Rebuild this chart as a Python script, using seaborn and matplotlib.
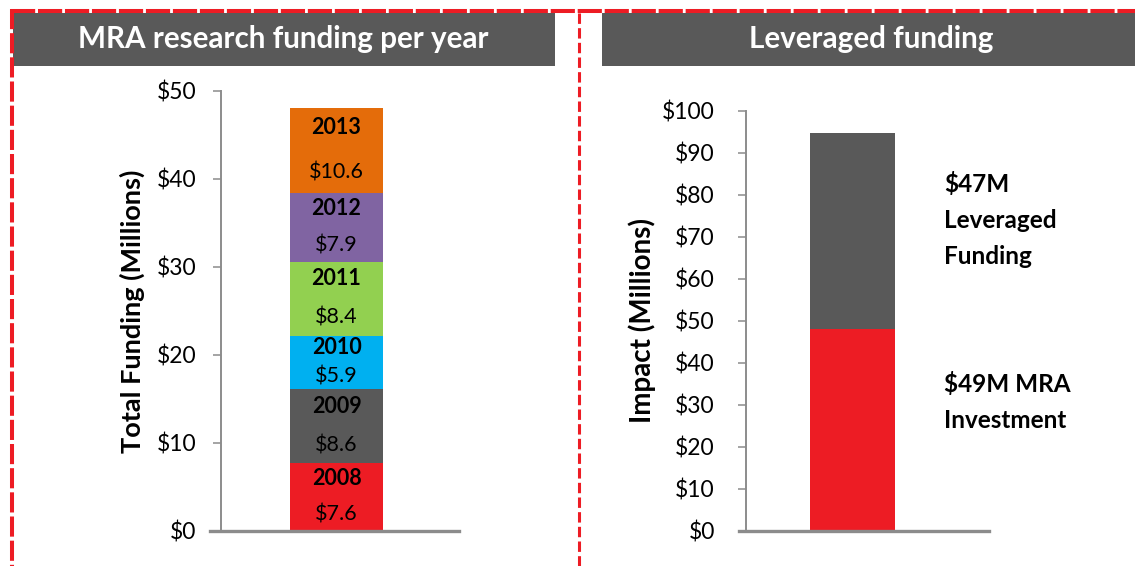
import numpy as np
import pandas as pd
import matplotlib
matplotlib.use('Agg')
import matplotlib.pyplot as plt
from matplotlib.patches import Rectangle
from matplotlib.lines import Line2D
from matplotlib.transforms import blended_transform_factory
import seaborn as sns

# data
years = ['2008', '2009', '2010', '2011', '2012', '2013']
funding_labels = [7.6, 8.6, 5.9, 8.4, 7.9, 10.6]   # printed values
segment_heights = [7.7, 8.4, 6.1, 8.4, 7.8, 9.7]   # drawn heights of the stack
year_colors = ['#ED1C24', '#595959', '#00B0F0', '#92D050', '#8064A2', '#E46C0A']

impact_parts = ['MRA Investment', 'Leveraged Funding']
impact = [48.1, 46.7]
impact_colors = ['#ED1C24', '#595959']
impact_text = ['$49M MRA\nInvestment', '$47M\nLeveraged\nFunding']
impact_text_y = [30.8, 74.0]

left_ticks = [0, 10, 20, 30, 40, 50]
right_ticks = [0, 10, 20, 30, 40, 50, 60, 70, 80, 90, 100]

sns.set_theme(style='white')
plt.rcParams['font.family'] = ['Lato', 'DejaVu Sans']

W, H = 1135, 566
fig = plt.figure(figsize=(W / 100, H / 100), dpi=100)


def px_axes(x0, x1, ytop, ybot):
    return fig.add_axes([x0 / W, (H - ybot) / H, (x1 - x0) / W, (ybot - ytop) / H])


def fx(x):
    return x / W


def fy(y):
    return 1 - y / H


axis_grey = '#8C8C8C'


def style_axis(ax, spine_pos, pad):
    for s in ['top', 'right']:
        ax.spines[s].set_visible(False)
    ax.spines['left'].set_position(('axes', spine_pos))
    ax.spines['left'].set_color(axis_grey)
    ax.spines['left'].set_linewidth(1.4)
    ax.spines['bottom'].set_color(axis_grey)
    ax.spines['bottom'].set_linewidth(2.4)
    ax.set_xticks([])
    ax.set_xlabel('')
    ax.tick_params(axis='y', direction='out', length=6, width=1.1, color=axis_grey,
                   pad=pad, labelsize=16.5, labelcolor='black', left=True)


# ---- left panel: stacked funding per year
df = pd.DataFrame({'year': years, 'label': funding_labels,
                   'height': segment_heights, 'color': year_colors})
df['top'] = df['height'].cumsum()
df['bottom'] = df['top'] - df['height']

ax1 = px_axes(210, 459, 91, 531)
for _, row in df.iloc[::-1].iterrows():
    sns.barplot(x=['MRA'], y=[row['top']], color=row['color'], saturation=1,
                width=0.8, linewidth=0, ax=ax1)
ax1.set_ylim(0, 50)
ax1.set_xlim(-1.09, 1.055)
ax1.set_yticks(left_ticks)
ax1.set_yticklabels(['$%d' % t for t in left_ticks])
style_axis(ax1, 0.044, 11.5)
ax1.set_ylabel('Total Funding (Millions)', fontsize=19.5, fontweight='bold',
               color='black', va='center')
ax1.yaxis.set_label_coords(-0.313, 0.5)

for _, row in df.iterrows():
    h = row['height']
    ax1.text(0, row['bottom'] + 0.77 * h, row['year'], ha='center', va='center',
             fontsize=15.5, fontweight='bold', color='black')
    ax1.text(0, row['bottom'] + 0.24 * h, '$%.1f' % row['label'], ha='center',
             va='center', fontsize=15.5, color='black')

# ---- right panel: leveraged funding
df2 = pd.DataFrame({'part': impact_parts, 'value': impact, 'color': impact_colors})
df2['top'] = df2['value'].cumsum()

ax2 = px_axes(739, 989, 111, 531)
for _, row in df2.iloc[::-1].iterrows():
    sns.barplot(x=['Impact'], y=[row['top']], color=row['color'], saturation=1,
                width=0.8, linewidth=0, ax=ax2)
ax2.set_ylim(0, 100)
ax2.set_xlim(-1.068, 1.285)
ax2.set_yticks(right_ticks)
ax2.set_yticklabels(['$%d' % t for t in right_ticks])
style_axis(ax2, 0.028, 16.5)
ax2.set_ylabel('Impact (Millions)', fontsize=20, fontweight='bold',
               color='black', va='center')
ax2.yaxis.set_label_coords(-0.388, 0.502)

trans = blended_transform_factory(ax2.transAxes, ax2.transData)
for txt, ty in zip(impact_text, impact_text_y):
    ax2.text(0.82, ty, txt, transform=trans, ha='left', va='center',
             fontsize=17.5, fontweight='bold', color='black',
             linespacing=1.68, clip_on=False)

# ---- title bars
bar_grey = '#595959'
for x0, x1, title, cx in [(13, 555, 'MRA research funding per year', 283),
                          (602, 1135, 'Leveraged funding', 871)]:
    fig.add_artist(Rectangle((fx(x0), fy(66)), fx(x1 - x0), (66 - 13) / H,
                             transform=fig.transFigure, color=bar_grey, lw=0))
    fig.text(fx(cx), fy(39), title, ha='center', va='center', color='white',
             fontsize=21.3, fontweight='bold')

# ---- red dashed frame
red = '#ED1C24'
fig.add_artist(Line2D([fx(11), fx(1135)], [fy(11), fy(11)], transform=fig.transFigure,
                      color=red, lw=2.9, linestyle=(0, (6, 0.7))))
fig.add_artist(Line2D([fx(11.5), fx(11.5)], [fy(9), fy(566)], transform=fig.transFigure,
                      color=red, lw=2.9, linestyle=(0, (5, 1))))
fig.add_artist(Line2D([fx(579), fx(579)], [fy(13), fy(566)], transform=fig.transFigure,
                      color=red, lw=2.2, linestyle=(0, (3.4, 1.4))))

fig.savefig('out.png', dpi=100, facecolor='white')
